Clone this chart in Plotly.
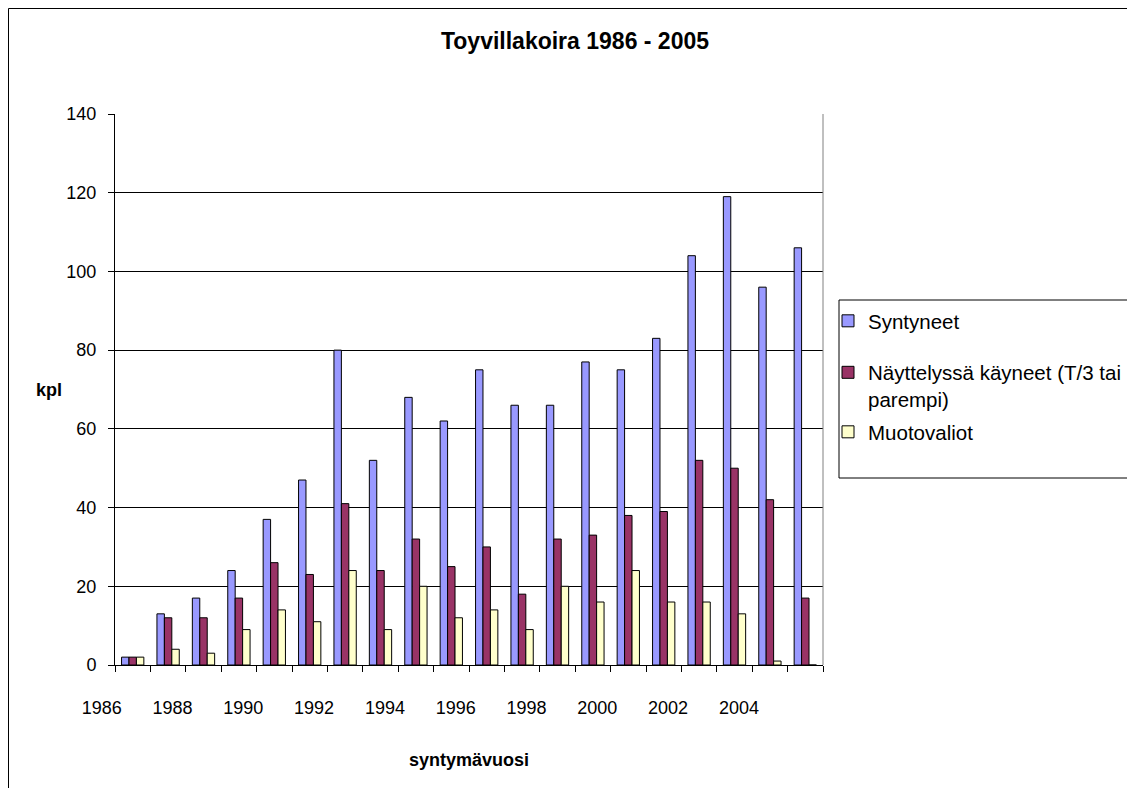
import plotly.graph_objects as go

# Toyvillakoira 1986 - 2005
years = list(range(1986, 2006))
syntyneet = [2, 13, 17, 24, 37, 47, 80, 52, 68, 62, 75, 66, 66, 77, 75, 83, 104, 119, 96, 106]
naytt = [2, 12, 12, 17, 26, 23, 41, 24, 32, 25, 30, 18, 32, 33, 38, 39, 52, 50, 42, 17]
muotovaliot = [2, 4, 3, 9, 14, 11, 24, 9, 20, 12, 14, 9, 20, 16, 24, 16, 16, 13, 1, 0]
tick_years = list(range(1986, 2006, 2))

series = [
    ("Syntyneet", syntyneet, "#9999FF"),
    ("Näyttelyssä käyneet (T/3 tai<br>parempi)", naytt, "#993366"),
    ("Muotovaliot", muotovaliot, "#FFFFCC"),
]

font = "Liberation Sans, Arial, sans-serif"
W, H = 1127, 780   # page body margin of 8px keeps this inside the window
OFF = 8
L, R, T, B = 115 - OFF, 823 - OFF, 114 - OFF, 665 - OFF   # plot area in figure px


def px_x(v):
    return (v - OFF - L) / (R - L)


def px_y(v):
    return (B - (v - OFF)) / (B - T)


# legend item centres (screen px)
legend_y = [321, 386, 432]
legend_names = ["legend", "legend2", "legend3"]

fig = go.Figure()
for i, (name, vals, col) in enumerate(series):
    fig.add_trace(go.Bar(
        x=years, y=vals, name=name, legend=legend_names[i],
        marker=dict(color=col, line=dict(color="black", width=1)),
    ))

legend_style = dict(xanchor="left", yanchor="middle", borderwidth=0,
                    bgcolor="rgba(0,0,0,0)", valign="top", font=dict(size=20.5))

fig.update_layout(
    width=W, height=H,
    margin=dict(l=L, r=W - R, t=T, b=H - B, autoexpand=False),
    paper_bgcolor="white", plot_bgcolor="white",
    font=dict(family=font, size=18, color="black"),
    barmode="group", bargap=0.37, bargroupgap=0,
    title=dict(text="<b>Toyvillakoira 1986 - 2005</b>", x=(575 - OFF) / W, xref="container",
               xanchor="center", y=1 - (41 - OFF) / H, yanchor="middle", font=dict(size=23)),
    showlegend=True,
)
for name, yc in zip(legend_names, legend_y):
    fig.update_layout({name: dict(x=px_x(828), y=px_y(yc), **legend_style)})

fig.update_xaxes(
    range=[1985.5, 2005.5], showgrid=False, zeroline=False,
    showline=True, linecolor="black", linewidth=1,
    tickvals=tick_years, ticktext=[str(y) for y in tick_years],
    ticks="", ticklabelstandoff=26, ticklabelshift=-31,
    minor=dict(tickvals=[y - 0.5 for y in years + [2006]], ticks="outside",
               ticklen=6, tickcolor="black", showgrid=False),
)
fig.update_yaxes(
    range=[0, 140], dtick=20, showgrid=True, gridcolor="black", gridwidth=1,
    zeroline=False, showline=True, linecolor="black", linewidth=1,
    ticks="outside", ticklen=6, tickcolor="black", ticklabelstandoff=8,
)

# right border of plot area
fig.add_shape(type="line", xref="paper", yref="paper", x0=1, x1=1, y0=0, y1=1,
              line=dict(color="#808080", width=1))
# legend box
fig.add_shape(type="rect", xref="paper", yref="paper", x0=px_x(839), x1=px_x(1160),
              y0=px_y(478), y1=px_y(300), line=dict(color="black", width=1))
# chart frame
fig.add_shape(type="rect", xref="paper", yref="paper", x0=px_x(8.5), x1=px_x(1160),
              y0=px_y(820), y1=px_y(8.5), line=dict(color="black", width=1), layer="below")

fig.add_annotation(text="<b>kpl</b>", xref="paper", yref="paper", xanchor="center",
                   yanchor="middle", x=px_x(49), y=px_y(390), showarrow=False,
                   font=dict(size=18))
fig.add_annotation(text="<b>syntymävuosi</b>", xref="paper", yref="paper", xanchor="center",
                   yanchor="middle", x=0.5, y=px_y(760), showarrow=False,
                   font=dict(size=18))

fig.write_html("out.html")
